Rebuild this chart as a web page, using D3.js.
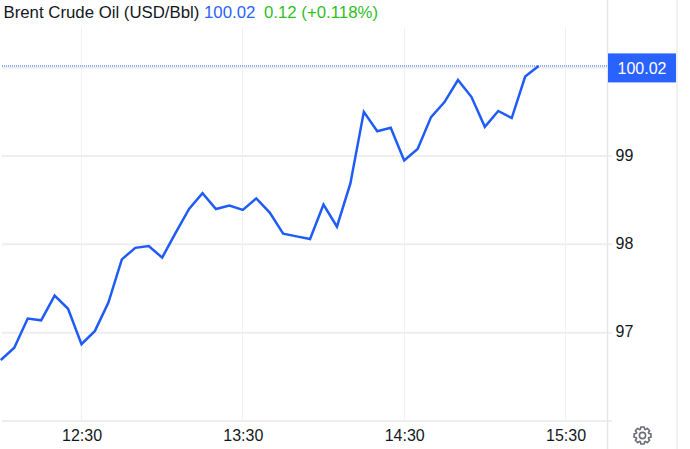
<!DOCTYPE html>
<html><head><meta charset="utf-8">
<script src="https://cdnjs.cloudflare.com/ajax/libs/d3/7.8.5/d3.min.js"></script>
<style>
html,body{margin:0;padding:0;background:#fff}
svg{display:block}
text{font-family:"Liberation Sans",Arial,sans-serif}
</style></head><body>
<svg id="c" width="690" height="449"></svg>
<script>
const startTime = "12:00";
const stepMinutes = 5;
const prices = [96.69,96.83,97.16,97.14,97.42,97.27,96.87,97.02,97.34,97.83,97.96,97.98,97.85,98.13,98.40,98.58,98.40,98.44,98.39,98.52,98.36,98.12,98.09,98.06,98.45,98.20,98.69,99.50,99.28,99.32,98.95,99.08,99.44,99.61,99.86,99.67,99.33,99.51,99.43,99.90,100.02];
const yTicks = [97,98,99];
const yGrid = [96,97,98,99,100];
const xTickLabels = ["12:30","13:30","14:30","15:30"];
const titleParts = [["Brent Crude Oil (USD/Bbl)","#131722"],["100.02","#2962ff"],["0.12 (+0.118%)","#2fbf1f"]];
const lastPrice = 100.02;
</script>
<script>
(function(){
const parse = d3.timeParse("%H:%M");
const fmt = d3.timeFormat("%H:%M");
const t0 = parse(startTime);
const pts = prices.map((v,i)=>({t:d3.timeMinute.offset(t0,i*stepMinutes),v}));
const x = d3.scaleTime().domain([parse("12:30"),parse("15:30")]).range([81.5,565.5]);
const y = d3.scaleLinear().domain([96,99]).range([421,156]);
const svg = d3.select("#c");
const left=2, right=607.5, topY=27, bottom=421, outer=676.5;

// vertical grid
svg.append("g").selectAll("line").data(xTickLabels).join("line")
  .attr("x1",d=>Math.floor(x(parse(d)))+.5).attr("x2",d=>Math.floor(x(parse(d)))+.5)
  .attr("y1",topY).attr("y2",bottom).attr("stroke","#ecf2f7").attr("stroke-width",1);
// horizontal grid
svg.append("g").selectAll("line").data(yGrid).join("line")
  .attr("x1",left).attr("x2",d=>d===100?right:612)
  .attr("y1",d=>y(d)).attr("y2",d=>y(d)).attr("stroke","#eeeeee").attr("stroke-width",2);
// frame
svg.append("line").attr("x1",right).attr("x2",right).attr("y1",0).attr("y2",449).attr("stroke","#e6e6e6").attr("stroke-width",1.5);
svg.append("line").attr("x1",outer+.5).attr("x2",outer+.5).attr("y1",0).attr("y2",449).attr("stroke","#ececec").attr("stroke-width",1.5);

// price line
svg.append("path").attr("d",d3.line().x(d=>x(d.t)).y(d=>y(d.v))(pts))
  .attr("fill","none").attr("stroke","#1f5cf7").attr("stroke-width",2.5).attr("stroke-linejoin","miter");
// last-price dotted line
svg.append("line").attr("x1",left).attr("x2",right).attr("y1",Math.round(y(lastPrice))).attr("y2",Math.round(y(lastPrice)))
  .attr("stroke","#2962ff").attr("stroke-width",1.2).attr("stroke-dasharray","1 1");

// axes
const xAxis = svg.append("g").attr("transform",`translate(0,${bottom})`)
  .call(d3.axisBottom(x).tickValues(xTickLabels.map(parse)).tickFormat(fmt).tickSize(0).tickPadding(9));
xAxis.select(".domain").remove();
xAxis.selectAll("text").attr("font-size",16).attr("fill","#131722").style("font-family",'"Liberation Sans",Arial,sans-serif');
const yAxis = svg.append("g").attr("transform",`translate(${right},-1)`)
  .call(d3.axisRight(y).tickValues(yTicks).tickFormat(d3.format("d")).tickSize(0).tickPadding(8));
yAxis.select(".domain").remove();
yAxis.selectAll("text").attr("font-size",16).attr("fill","#131722").style("font-family",'"Liberation Sans",Arial,sans-serif');

// last price label
svg.append("rect").attr("x",608).attr("y",y(lastPrice)-12.5).attr("width",68).attr("height",29).attr("fill","#2962ff");
svg.append("text").attr("x",642).attr("y",y(lastPrice)+2).attr("dy","0.35em").attr("text-anchor","middle")
  .attr("font-size",16).attr("fill","#fff").text(d3.format(".2f")(lastPrice));

// title
const titleX=[3.5,204,264];
const title = svg.append("text").attr("y",18).attr("font-size",16.8);
titleParts.forEach((p,i)=>title.append("tspan").attr("fill",p[1]).attr("x",titleX[i]).text(p[0]));

// gear icon
const cx=642.5, cy=435.5, teeth=8, rO=8.6, rI=6.6;
const gear=[];
for(let i=0;i<teeth;i++){
  const a=i*2*Math.PI/teeth, w=0.2, g=0.2;
  gear.push([a-w,rO],[a+w,rO],[a+w+g*.6,rI],[a+2*Math.PI/teeth-w-g*.6,rI]);
}
svg.append("path").attr("transform",`translate(${cx},${cy})`)
  .attr("d",d3.lineRadial().angle(d=>d[0]).radius(d=>d[1]).curve(d3.curveLinearClosed)(gear))
  .attr("fill","none").attr("stroke","#6a6d78").attr("stroke-width",1.6).attr("stroke-linejoin","round");
svg.append("circle").attr("cx",cx).attr("cy",cy).attr("r",3.1).attr("fill","none").attr("stroke","#6a6d78").attr("stroke-width",1.6);
})();
</script>
</body></html>
